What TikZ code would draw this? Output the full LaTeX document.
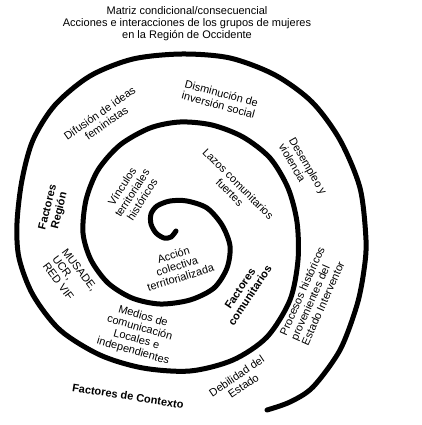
\documentclass[tikz,border=0pt]{standalone}
\usepackage{fontspec}
\setmainfont{Liberation Sans}
\newcommand{\lblfont}{\fontsize{11}{12}\selectfont}
\newcommand{\facfont}{\fontsize{11}{12}\selectfont\bfseries}

\begin{document}
\begin{tikzpicture}[x=1pt, y=1pt, lbl/.style={align=center, font=\lblfont, inner sep=0pt}, fac/.style={lbl, font=\facfont}, spiral/.style={line width=5pt, line cap=round}]
\useasboundingbox (0,0) rectangle (422,-425);
\node (title) [lbl] at (187,-24) {Matriz condicional/consecuencial\\Acciones e interacciones de los grupos de mujeres\\en la Región de Occidente};
\node (difusion) [lbl, rotate=35] at (103,-118) {Difusión de ideas\\feministas};
\node (disminucion) [lbl, rotate=-15] at (220,-99) {Disminución de\\inversión social};
\node (desempleo) [lbl, align=left, rotate=-60] at (303,-169) {Desempleo y\\violencia};
\node (region) [fac, rotate=76] at (54,-209) {Factores\\Región};
\node (musade) [lbl, align=left, rotate=-53] at (70,-277) {MUSADE,\\UCR,\\RED VIF};
\node (vinculos) [lbl, rotate=57] at (132,-193) {Vínculos\\territoriales\\históricos};
\node (lazos) [lbl, rotate=-45] at (234,-188) {Lazos comunitarios\\fuertes};
\node (accion) [lbl, rotate=17] at (177,-266) {Acción\\colectiva\\territorializada};
\node (comunitarios) [fac, rotate=56] at (245,-292) {Factores\\comunitarios};
\node (procesos) [lbl, align=left, rotate=66] at (313,-296) {Procesos históricos\\provenientes del\\Estado Interventor};
\node (medios) [lbl, rotate=-16] at (138,-334) {Medios de\\comunicación\\Locales e\\independientes};
\node (debilidad) [lbl, rotate=34] at (240,-381) {Debilidad del\\Estado};
\node (contexto) [fac, rotate=-9] at (128,-396) {Factores de Contexto};
% spiral, from the inner tip outwards
\draw[spiral] plot[smooth] coordinates {(176,-231) (171,-237) (164,-238) (156,-233) (151,-224) (151,-214) (157,-206) (170,-201) (187,-201) (207,-208) (222,-225) (230,-246) (227,-268) (214,-288) (190,-300) (160,-304) (132,-298) (108,-283) (91,-260) (83,-233) (86,-200) (98,-170) (120,-145) (150,-128) (180,-122) (212,-125) (243,-137) (270,-158) (288,-188) (297,-222) (298,-260) (290,-300) (267,-337) (233,-360) (190,-371) (143,-368) (100,-355) (60,-330) (33,-295) (19,-258) (17,-223) (22,-180) (33,-140) (55,-105) (90,-76) (133,-59) (182,-54) (230,-58) (275,-75) (312,-102) (340,-140) (360,-188) (366,-240) (364,-270) (357,-305) (340,-350) (313,-387) (290,-402) (267,-410)};
\end{tikzpicture}
\end{document}
